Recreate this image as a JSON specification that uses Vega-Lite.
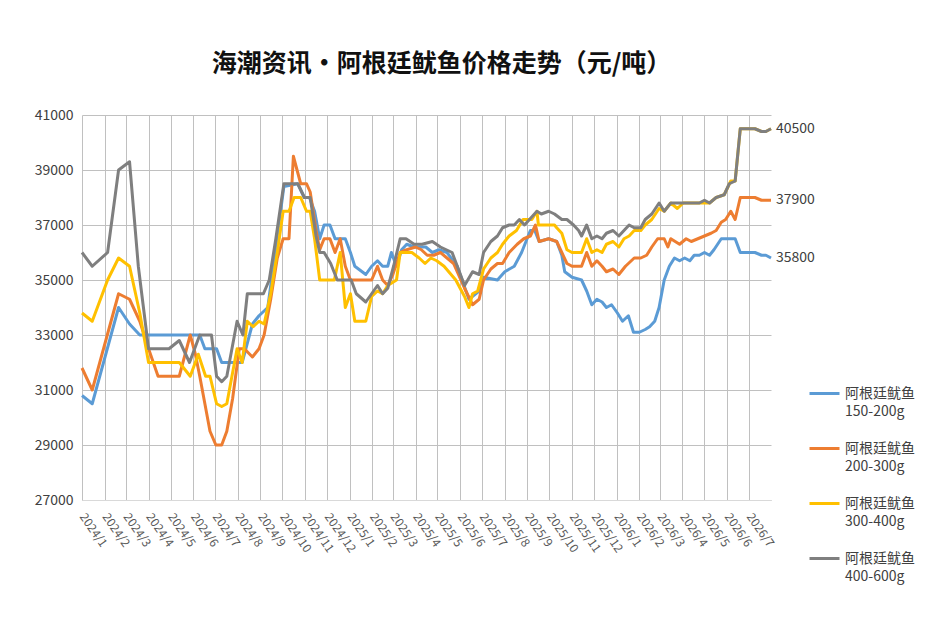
{
  "$schema": "https://vega.github.io/schema/vega-lite/v6.json",
  "width": 689,
  "height": 385,
  "autosize": {"type": "none"},
  "padding": {"left": 82, "top": 115, "right": 171, "bottom": 118},
  "background": "white",
  "title": {
    "text": "海潮资讯•阿根廷鱿鱼价格走势（元/吨）",
    "font": "Noto Sans CJK SC",
    "fontSize": 25,
    "fontWeight": "bold",
    "color": "#111111",
    "anchor": "middle",
    "frame": "group",
    "dx": 15,
    "offset": 31
  },
  "data": {
    "values": [
      {"date": "2024-01-01", "grade": "150-200g", "price": 30800},
      {"date": "2024-01-15", "grade": "150-200g", "price": 30500},
      {"date": "2024-02-20", "grade": "150-200g", "price": 34000},
      {"date": "2024-03-06", "grade": "150-200g", "price": 33400},
      {"date": "2024-03-20", "grade": "150-200g", "price": 33000},
      {"date": "2024-06-10", "grade": "150-200g", "price": 33000},
      {"date": "2024-06-17", "grade": "150-200g", "price": 32500},
      {"date": "2024-07-03", "grade": "150-200g", "price": 32500},
      {"date": "2024-07-10", "grade": "150-200g", "price": 32000},
      {"date": "2024-08-07", "grade": "150-200g", "price": 32000},
      {"date": "2024-08-21", "grade": "150-200g", "price": 33400},
      {"date": "2024-08-30", "grade": "150-200g", "price": 33700},
      {"date": "2024-09-11", "grade": "150-200g", "price": 34000},
      {"date": "2024-09-22", "grade": "150-200g", "price": 36200},
      {"date": "2024-10-03", "grade": "150-200g", "price": 38400},
      {"date": "2024-10-22", "grade": "150-200g", "price": 38500},
      {"date": "2024-10-31", "grade": "150-200g", "price": 38000},
      {"date": "2024-11-07", "grade": "150-200g", "price": 38000},
      {"date": "2024-11-14", "grade": "150-200g", "price": 37500},
      {"date": "2024-11-21", "grade": "150-200g", "price": 36500},
      {"date": "2024-11-27", "grade": "150-200g", "price": 37000},
      {"date": "2024-12-05", "grade": "150-200g", "price": 37000},
      {"date": "2024-12-12", "grade": "150-200g", "price": 36500},
      {"date": "2024-12-26", "grade": "150-200g", "price": 36500},
      {"date": "2025-01-02", "grade": "150-200g", "price": 36000},
      {"date": "2025-01-08", "grade": "150-200g", "price": 35500},
      {"date": "2025-01-23", "grade": "150-200g", "price": 35200},
      {"date": "2025-01-31", "grade": "150-200g", "price": 35500},
      {"date": "2025-02-08", "grade": "150-200g", "price": 35700},
      {"date": "2025-02-15", "grade": "150-200g", "price": 35500},
      {"date": "2025-02-22", "grade": "150-200g", "price": 35500},
      {"date": "2025-02-27", "grade": "150-200g", "price": 36000},
      {"date": "2025-03-06", "grade": "150-200g", "price": 35500},
      {"date": "2025-03-13", "grade": "150-200g", "price": 36100},
      {"date": "2025-03-20", "grade": "150-200g", "price": 36300},
      {"date": "2025-03-30", "grade": "150-200g", "price": 36200},
      {"date": "2025-04-15", "grade": "150-200g", "price": 36200},
      {"date": "2025-04-24", "grade": "150-200g", "price": 36000},
      {"date": "2025-05-03", "grade": "150-200g", "price": 36100},
      {"date": "2025-05-14", "grade": "150-200g", "price": 36000},
      {"date": "2025-05-28", "grade": "150-200g", "price": 35500},
      {"date": "2025-06-13", "grade": "150-200g", "price": 34300},
      {"date": "2025-06-27", "grade": "150-200g", "price": 34600},
      {"date": "2025-07-03", "grade": "150-200g", "price": 35100},
      {"date": "2025-07-22", "grade": "150-200g", "price": 35000},
      {"date": "2025-08-01", "grade": "150-200g", "price": 35300},
      {"date": "2025-08-14", "grade": "150-200g", "price": 35500},
      {"date": "2025-08-24", "grade": "150-200g", "price": 36000},
      {"date": "2025-09-05", "grade": "150-200g", "price": 36800},
      {"date": "2025-09-11", "grade": "150-200g", "price": 36800},
      {"date": "2025-09-17", "grade": "150-200g", "price": 36400},
      {"date": "2025-09-30", "grade": "150-200g", "price": 36500},
      {"date": "2025-10-11", "grade": "150-200g", "price": 36400},
      {"date": "2025-10-18", "grade": "150-200g", "price": 35900},
      {"date": "2025-10-22", "grade": "150-200g", "price": 35300},
      {"date": "2025-11-01", "grade": "150-200g", "price": 35100},
      {"date": "2025-11-14", "grade": "150-200g", "price": 35000},
      {"date": "2025-11-21", "grade": "150-200g", "price": 34600},
      {"date": "2025-11-28", "grade": "150-200g", "price": 34100},
      {"date": "2025-12-05", "grade": "150-200g", "price": 34300},
      {"date": "2025-12-12", "grade": "150-200g", "price": 34200},
      {"date": "2025-12-18", "grade": "150-200g", "price": 34000},
      {"date": "2025-12-25", "grade": "150-200g", "price": 34100},
      {"date": "2026-01-02", "grade": "150-200g", "price": 33800},
      {"date": "2026-01-09", "grade": "150-200g", "price": 33500},
      {"date": "2026-01-17", "grade": "150-200g", "price": 33700},
      {"date": "2026-01-24", "grade": "150-200g", "price": 33100},
      {"date": "2026-02-01", "grade": "150-200g", "price": 33100},
      {"date": "2026-02-09", "grade": "150-200g", "price": 33200},
      {"date": "2026-02-15", "grade": "150-200g", "price": 33300},
      {"date": "2026-02-22", "grade": "150-200g", "price": 33500},
      {"date": "2026-02-28", "grade": "150-200g", "price": 34000},
      {"date": "2026-03-07", "grade": "150-200g", "price": 35000},
      {"date": "2026-03-14", "grade": "150-200g", "price": 35500},
      {"date": "2026-03-21", "grade": "150-200g", "price": 35800},
      {"date": "2026-03-28", "grade": "150-200g", "price": 35700},
      {"date": "2026-04-04", "grade": "150-200g", "price": 35800},
      {"date": "2026-04-11", "grade": "150-200g", "price": 35700},
      {"date": "2026-04-17", "grade": "150-200g", "price": 35900},
      {"date": "2026-04-24", "grade": "150-200g", "price": 35900},
      {"date": "2026-05-01", "grade": "150-200g", "price": 36000},
      {"date": "2026-05-08", "grade": "150-200g", "price": 35900},
      {"date": "2026-05-14", "grade": "150-200g", "price": 36100},
      {"date": "2026-05-24", "grade": "150-200g", "price": 36500},
      {"date": "2026-06-12", "grade": "150-200g", "price": 36500},
      {"date": "2026-06-19", "grade": "150-200g", "price": 36000},
      {"date": "2026-07-09", "grade": "150-200g", "price": 36000},
      {"date": "2026-07-18", "grade": "150-200g", "price": 35900},
      {"date": "2026-07-24", "grade": "150-200g", "price": 35900},
      {"date": "2026-07-31", "grade": "150-200g", "price": 35800},

      {"date": "2024-01-01", "grade": "200-300g", "price": 31800},
      {"date": "2024-01-15", "grade": "200-300g", "price": 31000},
      {"date": "2024-02-20", "grade": "200-300g", "price": 34500},
      {"date": "2024-03-06", "grade": "200-300g", "price": 34300},
      {"date": "2024-03-20", "grade": "200-300g", "price": 33500},
      {"date": "2024-04-01", "grade": "200-300g", "price": 32500},
      {"date": "2024-04-14", "grade": "200-300g", "price": 31500},
      {"date": "2024-05-13", "grade": "200-300g", "price": 31500},
      {"date": "2024-05-28", "grade": "200-300g", "price": 33000},
      {"date": "2024-06-04", "grade": "200-300g", "price": 32300},
      {"date": "2024-06-10", "grade": "200-300g", "price": 31500},
      {"date": "2024-06-17", "grade": "200-300g", "price": 30500},
      {"date": "2024-06-24", "grade": "200-300g", "price": 29500},
      {"date": "2024-07-02", "grade": "200-300g", "price": 29000},
      {"date": "2024-07-10", "grade": "200-300g", "price": 29000},
      {"date": "2024-07-17", "grade": "200-300g", "price": 29500},
      {"date": "2024-07-25", "grade": "200-300g", "price": 30700},
      {"date": "2024-08-03", "grade": "200-300g", "price": 32500},
      {"date": "2024-08-10", "grade": "200-300g", "price": 32500},
      {"date": "2024-08-21", "grade": "200-300g", "price": 32200},
      {"date": "2024-08-30", "grade": "200-300g", "price": 32500},
      {"date": "2024-09-06", "grade": "200-300g", "price": 33000},
      {"date": "2024-09-15", "grade": "200-300g", "price": 34300},
      {"date": "2024-09-24", "grade": "200-300g", "price": 35800},
      {"date": "2024-10-02", "grade": "200-300g", "price": 36500},
      {"date": "2024-10-10", "grade": "200-300g", "price": 36500},
      {"date": "2024-10-16", "grade": "200-300g", "price": 39500},
      {"date": "2024-10-26", "grade": "200-300g", "price": 38500},
      {"date": "2024-11-03", "grade": "200-300g", "price": 38500},
      {"date": "2024-11-08", "grade": "200-300g", "price": 38200},
      {"date": "2024-11-16", "grade": "200-300g", "price": 36800},
      {"date": "2024-11-21", "grade": "200-300g", "price": 36100},
      {"date": "2024-11-27", "grade": "200-300g", "price": 36500},
      {"date": "2024-12-05", "grade": "200-300g", "price": 36500},
      {"date": "2024-12-12", "grade": "200-300g", "price": 36000},
      {"date": "2024-12-19", "grade": "200-300g", "price": 36500},
      {"date": "2024-12-26", "grade": "200-300g", "price": 35500},
      {"date": "2025-01-02", "grade": "200-300g", "price": 35000},
      {"date": "2025-01-31", "grade": "200-300g", "price": 35000},
      {"date": "2025-02-08", "grade": "200-300g", "price": 35500},
      {"date": "2025-02-15", "grade": "200-300g", "price": 35000},
      {"date": "2025-02-22", "grade": "200-300g", "price": 34800},
      {"date": "2025-03-01", "grade": "200-300g", "price": 35200},
      {"date": "2025-03-11", "grade": "200-300g", "price": 36000},
      {"date": "2025-03-20", "grade": "200-300g", "price": 36100},
      {"date": "2025-04-01", "grade": "200-300g", "price": 36200},
      {"date": "2025-04-09", "grade": "200-300g", "price": 36100},
      {"date": "2025-04-17", "grade": "200-300g", "price": 35900},
      {"date": "2025-04-26", "grade": "200-300g", "price": 35900},
      {"date": "2025-05-05", "grade": "200-300g", "price": 36000},
      {"date": "2025-05-14", "grade": "200-300g", "price": 35800},
      {"date": "2025-05-23", "grade": "200-300g", "price": 35600},
      {"date": "2025-06-07", "grade": "200-300g", "price": 34700},
      {"date": "2025-06-18", "grade": "200-300g", "price": 34100},
      {"date": "2025-06-27", "grade": "200-300g", "price": 34300},
      {"date": "2025-07-03", "grade": "200-300g", "price": 35000},
      {"date": "2025-07-13", "grade": "200-300g", "price": 35400},
      {"date": "2025-07-22", "grade": "200-300g", "price": 35600},
      {"date": "2025-07-29", "grade": "200-300g", "price": 35600},
      {"date": "2025-08-07", "grade": "200-300g", "price": 36000},
      {"date": "2025-08-18", "grade": "200-300g", "price": 36300},
      {"date": "2025-08-27", "grade": "200-300g", "price": 36500},
      {"date": "2025-09-05", "grade": "200-300g", "price": 36600},
      {"date": "2025-09-12", "grade": "200-300g", "price": 37000},
      {"date": "2025-09-17", "grade": "200-300g", "price": 36400},
      {"date": "2025-09-30", "grade": "200-300g", "price": 36500},
      {"date": "2025-10-11", "grade": "200-300g", "price": 36400},
      {"date": "2025-10-18", "grade": "200-300g", "price": 36000},
      {"date": "2025-10-25", "grade": "200-300g", "price": 35600},
      {"date": "2025-11-01", "grade": "200-300g", "price": 35500},
      {"date": "2025-11-14", "grade": "200-300g", "price": 35500},
      {"date": "2025-11-21", "grade": "200-300g", "price": 36000},
      {"date": "2025-11-28", "grade": "200-300g", "price": 35500},
      {"date": "2025-12-05", "grade": "200-300g", "price": 35700},
      {"date": "2025-12-12", "grade": "200-300g", "price": 35500},
      {"date": "2025-12-18", "grade": "200-300g", "price": 35300},
      {"date": "2025-12-27", "grade": "200-300g", "price": 35400},
      {"date": "2026-01-04", "grade": "200-300g", "price": 35200},
      {"date": "2026-01-13", "grade": "200-300g", "price": 35500},
      {"date": "2026-01-25", "grade": "200-300g", "price": 35800},
      {"date": "2026-02-03", "grade": "200-300g", "price": 35800},
      {"date": "2026-02-11", "grade": "200-300g", "price": 35900},
      {"date": "2026-02-18", "grade": "200-300g", "price": 36200},
      {"date": "2026-02-26", "grade": "200-300g", "price": 36500},
      {"date": "2026-03-07", "grade": "200-300g", "price": 36500},
      {"date": "2026-03-12", "grade": "200-300g", "price": 36200},
      {"date": "2026-03-16", "grade": "200-300g", "price": 36500},
      {"date": "2026-03-28", "grade": "200-300g", "price": 36300},
      {"date": "2026-04-06", "grade": "200-300g", "price": 36500},
      {"date": "2026-04-13", "grade": "200-300g", "price": 36400},
      {"date": "2026-04-22", "grade": "200-300g", "price": 36500},
      {"date": "2026-05-01", "grade": "200-300g", "price": 36600},
      {"date": "2026-05-10", "grade": "200-300g", "price": 36700},
      {"date": "2026-05-17", "grade": "200-300g", "price": 36800},
      {"date": "2026-05-24", "grade": "200-300g", "price": 37100},
      {"date": "2026-05-30", "grade": "200-300g", "price": 37200},
      {"date": "2026-06-06", "grade": "200-300g", "price": 37500},
      {"date": "2026-06-12", "grade": "200-300g", "price": 37200},
      {"date": "2026-06-19", "grade": "200-300g", "price": 38000},
      {"date": "2026-07-09", "grade": "200-300g", "price": 38000},
      {"date": "2026-07-18", "grade": "200-300g", "price": 37900},
      {"date": "2026-07-31", "grade": "200-300g", "price": 37900},

      {"date": "2024-01-01", "grade": "300-400g", "price": 33800},
      {"date": "2024-01-15", "grade": "300-400g", "price": 33500},
      {"date": "2024-02-05", "grade": "300-400g", "price": 35000},
      {"date": "2024-02-20", "grade": "300-400g", "price": 35800},
      {"date": "2024-03-06", "grade": "300-400g", "price": 35500},
      {"date": "2024-03-20", "grade": "300-400g", "price": 33800},
      {"date": "2024-04-01", "grade": "300-400g", "price": 32000},
      {"date": "2024-05-13", "grade": "300-400g", "price": 32000},
      {"date": "2024-05-28", "grade": "300-400g", "price": 31500},
      {"date": "2024-06-08", "grade": "300-400g", "price": 32300},
      {"date": "2024-06-18", "grade": "300-400g", "price": 31500},
      {"date": "2024-06-24", "grade": "300-400g", "price": 31500},
      {"date": "2024-07-03", "grade": "300-400g", "price": 30500},
      {"date": "2024-07-10", "grade": "300-400g", "price": 30400},
      {"date": "2024-07-17", "grade": "300-400g", "price": 30500},
      {"date": "2024-07-31", "grade": "300-400g", "price": 32500},
      {"date": "2024-08-07", "grade": "300-400g", "price": 32000},
      {"date": "2024-08-14", "grade": "300-400g", "price": 33500},
      {"date": "2024-08-22", "grade": "300-400g", "price": 33300},
      {"date": "2024-08-30", "grade": "300-400g", "price": 33500},
      {"date": "2024-09-06", "grade": "300-400g", "price": 33400},
      {"date": "2024-09-15", "grade": "300-400g", "price": 34500},
      {"date": "2024-09-24", "grade": "300-400g", "price": 36000},
      {"date": "2024-10-02", "grade": "300-400g", "price": 37500},
      {"date": "2024-10-10", "grade": "300-400g", "price": 37500},
      {"date": "2024-10-17", "grade": "300-400g", "price": 38000},
      {"date": "2024-10-26", "grade": "300-400g", "price": 38000},
      {"date": "2024-11-03", "grade": "300-400g", "price": 37500},
      {"date": "2024-11-08", "grade": "300-400g", "price": 37500},
      {"date": "2024-11-14", "grade": "300-400g", "price": 36500},
      {"date": "2024-11-21", "grade": "300-400g", "price": 35000},
      {"date": "2024-12-11", "grade": "300-400g", "price": 35000},
      {"date": "2024-12-19", "grade": "300-400g", "price": 36000},
      {"date": "2024-12-26", "grade": "300-400g", "price": 34000},
      {"date": "2025-01-02", "grade": "300-400g", "price": 34500},
      {"date": "2025-01-08", "grade": "300-400g", "price": 33500},
      {"date": "2025-01-23", "grade": "300-400g", "price": 33500},
      {"date": "2025-01-31", "grade": "300-400g", "price": 34400},
      {"date": "2025-02-08", "grade": "300-400g", "price": 34600},
      {"date": "2025-02-15", "grade": "300-400g", "price": 34500},
      {"date": "2025-02-22", "grade": "300-400g", "price": 34800},
      {"date": "2025-03-06", "grade": "300-400g", "price": 35000},
      {"date": "2025-03-11", "grade": "300-400g", "price": 36000},
      {"date": "2025-03-27", "grade": "300-400g", "price": 36000},
      {"date": "2025-04-06", "grade": "300-400g", "price": 35800},
      {"date": "2025-04-14", "grade": "300-400g", "price": 35600},
      {"date": "2025-04-22", "grade": "300-400g", "price": 35800},
      {"date": "2025-04-30", "grade": "300-400g", "price": 35700},
      {"date": "2025-05-10", "grade": "300-400g", "price": 35500},
      {"date": "2025-05-26", "grade": "300-400g", "price": 35000},
      {"date": "2025-06-07", "grade": "300-400g", "price": 34400},
      {"date": "2025-06-13", "grade": "300-400g", "price": 34000},
      {"date": "2025-06-18", "grade": "300-400g", "price": 34500},
      {"date": "2025-06-25", "grade": "300-400g", "price": 34600},
      {"date": "2025-07-03", "grade": "300-400g", "price": 35400},
      {"date": "2025-07-13", "grade": "300-400g", "price": 35800},
      {"date": "2025-07-22", "grade": "300-400g", "price": 36000},
      {"date": "2025-07-29", "grade": "300-400g", "price": 36300},
      {"date": "2025-08-07", "grade": "300-400g", "price": 36600},
      {"date": "2025-08-17", "grade": "300-400g", "price": 36800},
      {"date": "2025-08-26", "grade": "300-400g", "price": 37200},
      {"date": "2025-09-07", "grade": "300-400g", "price": 37200},
      {"date": "2025-09-14", "grade": "300-400g", "price": 37500},
      {"date": "2025-09-16", "grade": "300-400g", "price": 37000},
      {"date": "2025-10-08", "grade": "300-400g", "price": 37000},
      {"date": "2025-10-11", "grade": "300-400g", "price": 36900},
      {"date": "2025-10-18", "grade": "300-400g", "price": 36700},
      {"date": "2025-10-25", "grade": "300-400g", "price": 36100},
      {"date": "2025-11-01", "grade": "300-400g", "price": 36000},
      {"date": "2025-11-14", "grade": "300-400g", "price": 36000},
      {"date": "2025-11-21", "grade": "300-400g", "price": 36500},
      {"date": "2025-11-28", "grade": "300-400g", "price": 36000},
      {"date": "2025-12-05", "grade": "300-400g", "price": 36100},
      {"date": "2025-12-12", "grade": "300-400g", "price": 36000},
      {"date": "2025-12-18", "grade": "300-400g", "price": 36300},
      {"date": "2025-12-27", "grade": "300-400g", "price": 36400},
      {"date": "2026-01-04", "grade": "300-400g", "price": 36200},
      {"date": "2026-01-11", "grade": "300-400g", "price": 36500},
      {"date": "2026-01-18", "grade": "300-400g", "price": 36600},
      {"date": "2026-01-25", "grade": "300-400g", "price": 36800},
      {"date": "2026-02-03", "grade": "300-400g", "price": 36800},
      {"date": "2026-02-09", "grade": "300-400g", "price": 37000},
      {"date": "2026-02-18", "grade": "300-400g", "price": 37200},
      {"date": "2026-02-28", "grade": "300-400g", "price": 37600},
      {"date": "2026-03-07", "grade": "300-400g", "price": 37500},
      {"date": "2026-03-16", "grade": "300-400g", "price": 37800},
      {"date": "2026-03-25", "grade": "300-400g", "price": 37600},
      {"date": "2026-04-02", "grade": "300-400g", "price": 37800},
      {"date": "2026-04-24", "grade": "300-400g", "price": 37800},
      {"date": "2026-05-08", "grade": "300-400g", "price": 37800},
      {"date": "2026-05-17", "grade": "300-400g", "price": 38000},
      {"date": "2026-05-28", "grade": "300-400g", "price": 38100},
      {"date": "2026-06-06", "grade": "300-400g", "price": 38600},
      {"date": "2026-06-12", "grade": "300-400g", "price": 38600},
      {"date": "2026-06-19", "grade": "300-400g", "price": 40500},
      {"date": "2026-07-09", "grade": "300-400g", "price": 40500},
      {"date": "2026-07-18", "grade": "300-400g", "price": 40400},
      {"date": "2026-07-24", "grade": "300-400g", "price": 40400},
      {"date": "2026-07-31", "grade": "300-400g", "price": 40500},

      {"date": "2024-01-01", "grade": "400-600g", "price": 36000},
      {"date": "2024-01-15", "grade": "400-600g", "price": 35500},
      {"date": "2024-02-05", "grade": "400-600g", "price": 36000},
      {"date": "2024-02-20", "grade": "400-600g", "price": 39000},
      {"date": "2024-03-06", "grade": "400-600g", "price": 39300},
      {"date": "2024-03-18", "grade": "400-600g", "price": 35500},
      {"date": "2024-04-01", "grade": "400-600g", "price": 32500},
      {"date": "2024-04-29", "grade": "400-600g", "price": 32500},
      {"date": "2024-05-13", "grade": "400-600g", "price": 32800},
      {"date": "2024-05-27", "grade": "400-600g", "price": 32000},
      {"date": "2024-06-10", "grade": "400-600g", "price": 33000},
      {"date": "2024-06-26", "grade": "400-600g", "price": 33000},
      {"date": "2024-07-03", "grade": "400-600g", "price": 31500},
      {"date": "2024-07-10", "grade": "400-600g", "price": 31300},
      {"date": "2024-07-17", "grade": "400-600g", "price": 31500},
      {"date": "2024-07-31", "grade": "400-600g", "price": 33500},
      {"date": "2024-08-08", "grade": "400-600g", "price": 33000},
      {"date": "2024-08-14", "grade": "400-600g", "price": 34500},
      {"date": "2024-09-05", "grade": "400-600g", "price": 34500},
      {"date": "2024-09-13", "grade": "400-600g", "price": 35000},
      {"date": "2024-09-22", "grade": "400-600g", "price": 36500},
      {"date": "2024-10-03", "grade": "400-600g", "price": 38500},
      {"date": "2024-10-22", "grade": "400-600g", "price": 38500},
      {"date": "2024-10-31", "grade": "400-600g", "price": 38000},
      {"date": "2024-11-08", "grade": "400-600g", "price": 38000},
      {"date": "2024-11-16", "grade": "400-600g", "price": 36600},
      {"date": "2024-11-21", "grade": "400-600g", "price": 36000},
      {"date": "2024-11-27", "grade": "400-600g", "price": 36000},
      {"date": "2024-12-06", "grade": "400-600g", "price": 35600},
      {"date": "2024-12-15", "grade": "400-600g", "price": 35000},
      {"date": "2025-01-03", "grade": "400-600g", "price": 35000},
      {"date": "2025-01-10", "grade": "400-600g", "price": 34500},
      {"date": "2025-01-23", "grade": "400-600g", "price": 34200},
      {"date": "2025-01-31", "grade": "400-600g", "price": 34500},
      {"date": "2025-02-08", "grade": "400-600g", "price": 34800},
      {"date": "2025-02-15", "grade": "400-600g", "price": 34500},
      {"date": "2025-02-22", "grade": "400-600g", "price": 34700},
      {"date": "2025-03-02", "grade": "400-600g", "price": 35500},
      {"date": "2025-03-11", "grade": "400-600g", "price": 36500},
      {"date": "2025-03-19", "grade": "400-600g", "price": 36500},
      {"date": "2025-03-30", "grade": "400-600g", "price": 36300},
      {"date": "2025-04-10", "grade": "400-600g", "price": 36300},
      {"date": "2025-04-24", "grade": "400-600g", "price": 36400},
      {"date": "2025-05-05", "grade": "400-600g", "price": 36200},
      {"date": "2025-05-21", "grade": "400-600g", "price": 36000},
      {"date": "2025-06-07", "grade": "400-600g", "price": 34800},
      {"date": "2025-06-18", "grade": "400-600g", "price": 35300},
      {"date": "2025-06-27", "grade": "400-600g", "price": 35200},
      {"date": "2025-07-03", "grade": "400-600g", "price": 36000},
      {"date": "2025-07-13", "grade": "400-600g", "price": 36400},
      {"date": "2025-07-22", "grade": "400-600g", "price": 36600},
      {"date": "2025-07-29", "grade": "400-600g", "price": 36900},
      {"date": "2025-08-07", "grade": "400-600g", "price": 37000},
      {"date": "2025-08-14", "grade": "400-600g", "price": 37000},
      {"date": "2025-08-21", "grade": "400-600g", "price": 37200},
      {"date": "2025-08-28", "grade": "400-600g", "price": 37000},
      {"date": "2025-09-14", "grade": "400-600g", "price": 37500},
      {"date": "2025-09-20", "grade": "400-600g", "price": 37400},
      {"date": "2025-09-30", "grade": "400-600g", "price": 37500},
      {"date": "2025-10-08", "grade": "400-600g", "price": 37400},
      {"date": "2025-10-18", "grade": "400-600g", "price": 37200},
      {"date": "2025-10-25", "grade": "400-600g", "price": 37200},
      {"date": "2025-11-03", "grade": "400-600g", "price": 37000},
      {"date": "2025-11-10", "grade": "400-600g", "price": 36800},
      {"date": "2025-11-14", "grade": "400-600g", "price": 36600},
      {"date": "2025-11-21", "grade": "400-600g", "price": 37000},
      {"date": "2025-11-28", "grade": "400-600g", "price": 36500},
      {"date": "2025-12-05", "grade": "400-600g", "price": 36600},
      {"date": "2025-12-12", "grade": "400-600g", "price": 36500},
      {"date": "2025-12-18", "grade": "400-600g", "price": 36700},
      {"date": "2025-12-27", "grade": "400-600g", "price": 36800},
      {"date": "2026-01-04", "grade": "400-600g", "price": 36600},
      {"date": "2026-01-11", "grade": "400-600g", "price": 36800},
      {"date": "2026-01-18", "grade": "400-600g", "price": 37000},
      {"date": "2026-01-25", "grade": "400-600g", "price": 36900},
      {"date": "2026-02-03", "grade": "400-600g", "price": 36900},
      {"date": "2026-02-09", "grade": "400-600g", "price": 37200},
      {"date": "2026-02-18", "grade": "400-600g", "price": 37400},
      {"date": "2026-02-28", "grade": "400-600g", "price": 37800},
      {"date": "2026-03-07", "grade": "400-600g", "price": 37500},
      {"date": "2026-03-16", "grade": "400-600g", "price": 37800},
      {"date": "2026-04-24", "grade": "400-600g", "price": 37800},
      {"date": "2026-05-01", "grade": "400-600g", "price": 37900},
      {"date": "2026-05-08", "grade": "400-600g", "price": 37800},
      {"date": "2026-05-17", "grade": "400-600g", "price": 38000},
      {"date": "2026-05-28", "grade": "400-600g", "price": 38100},
      {"date": "2026-06-04", "grade": "400-600g", "price": 38500},
      {"date": "2026-06-12", "grade": "400-600g", "price": 38600},
      {"date": "2026-06-19", "grade": "400-600g", "price": 40500},
      {"date": "2026-07-09", "grade": "400-600g", "price": 40500},
      {"date": "2026-07-18", "grade": "400-600g", "price": 40400},
      {"date": "2026-07-24", "grade": "400-600g", "price": 40400},
      {"date": "2026-07-31", "grade": "400-600g", "price": 40500}
    ]
  },
  "encoding": {
    "x": {
      "field": "date",
      "type": "temporal",
      "title": null,
      "scale": {
        "type": "utc",
        "domain": [
          {"year": 2024, "month": 1, "date": 1, "utc": true},
          {"year": 2026, "month": 7, "date": 31, "utc": true}
        ]
      },
      "axis": {
        "format": "%Y/%-m",
        "tickCount": {"interval": "month", "step": 1},
        "labelAngle": 55,
        "labelAlign": "left",
        "labelBaseline": "middle",
        "labelPadding": 14,
        "labelOverlap": false,
        "labelFontSize": 12,
        "labelColor": "#595959",
        "grid": true,
        "gridColor": "#c0c0c0",
        "ticks": false,
        "domainColor": "#d9d9d9"
      }
    },
    "y": {
      "field": "price",
      "type": "quantitative",
      "title": null,
      "scale": {"domain": [27000, 41000], "nice": false, "zero": false},
      "axis": {
        "values": [27000, 29000, 31000, 33000, 35000, 37000, 39000, 41000],
        "format": "d",
        "labelFontSize": 14,
        "labelColor": "#404040",
        "labelPadding": 9,
        "grid": true,
        "gridColor": "#c0c0c0",
        "domain": false,
        "ticks": false
      }
    }
  },
  "layer": [
    {
      "mark": {"type": "line", "strokeWidth": 3, "strokeJoin": "round"},
      "encoding": {
        "color": {
          "field": "grade",
          "type": "nominal",
          "scale": {
            "domain": ["150-200g", "200-300g", "300-400g", "400-600g"],
            "range": ["#5B9BD5", "#ED7D31", "#FFC000", "#7F7F7F"]
          },
          "legend": {
            "orient": "none",
            "legendX": 726,
            "legendY": 262,
            "title": null,
            "padding": 0,
            "symbolType": "stroke",
            "symbolSize": 900,
            "symbolStrokeWidth": 3,
            "labelExpr": "['阿根廷鱿鱼', datum.label]",
            "labelFont": "Noto Sans CJK SC",
            "labelFontSize": 14,
            "labelColor": "#404040",
            "labelLimit": 200,
            "rowPadding": 13,
            "encode": {"labels": {"update": {"lineHeight": {"value": 18}}}}
          }
        }
      }
    },
    {
      "transform": [
        {"joinaggregate": [{"op": "max", "field": "date", "as": "last"}]},
        {"filter": "time(datum.date) == time(datum.last) && datum.grade != '300-400g'"}
      ],
      "mark": {"type": "text", "align": "left", "dx": 5, "fontSize": 14, "color": "#404040"},
      "encoding": {
        "text": {"field": "price", "type": "quantitative", "format": "d"}
      }
    }
  ],
  "config": {
    "view": {"stroke": null},
    "font": "Noto Sans CJK SC"
  }
}
